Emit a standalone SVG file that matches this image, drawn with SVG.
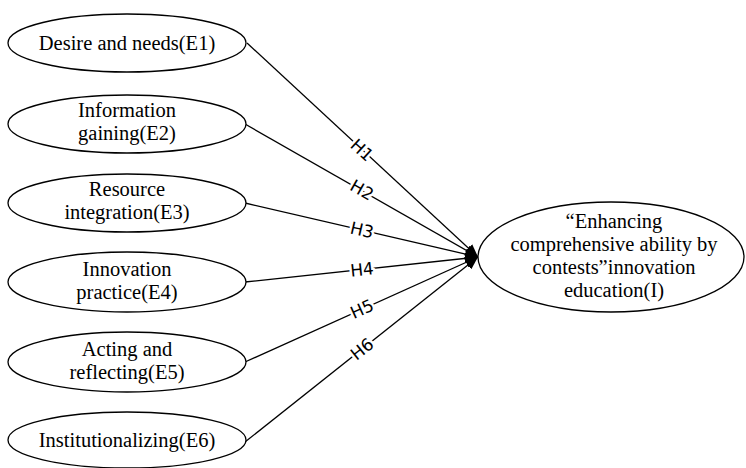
<svg xmlns="http://www.w3.org/2000/svg" width="746" height="468" viewBox="0 0 746 468">
<style>
.node ellipse{fill:#fff;stroke:#000;stroke-width:1.3}
.node text{font-family:"Liberation Serif","Times New Roman",serif;font-size:20.5px;fill:#000;text-anchor:middle}
.edges line{stroke:#000;stroke-width:1.3}
.lbl{font-family:"DejaVu Sans",sans-serif;font-size:17px;fill:#000;text-anchor:middle;stroke:#fff;stroke-width:5px;paint-order:stroke;stroke-linejoin:round}
</style>
<defs>
<marker id="arr" viewBox="0 0 13 11" refX="13" refY="5.5" markerWidth="13" markerHeight="11" markerUnits="userSpaceOnUse" orient="auto">
<path d="M0,0 L13,5.5 L0,11 Z" fill="#000"/>
</marker>
</defs>
<g class="edges">
<line x1="247" y1="43" x2="478" y2="257" marker-end="url(#arr)"/>
<line x1="245" y1="124" x2="478" y2="257" marker-end="url(#arr)"/>
<line x1="245" y1="203" x2="478" y2="257" marker-end="url(#arr)"/>
<line x1="245" y1="282" x2="478" y2="257" marker-end="url(#arr)"/>
<line x1="245" y1="362" x2="478" y2="257" marker-end="url(#arr)"/>
<line x1="245" y1="442" x2="478" y2="257" marker-end="url(#arr)"/>
<text class="lbl" transform="translate(362,150) rotate(42.8)" y="6">H1</text>
<text class="lbl" transform="translate(362,190) rotate(29.7)" y="6">H2</text>
<text class="lbl" transform="translate(362,230) rotate(13)" y="6">H3</text>
<text class="lbl" transform="translate(362,269.5) rotate(-6.1)" y="6">H4</text>
<text class="lbl" transform="translate(362,309) rotate(-24.3)" y="6">H5</text>
<text class="lbl" transform="translate(362,349) rotate(-38.5)" y="6">H6</text>
</g>
<g id="E1" class="node"><ellipse cx="127" cy="43" rx="119" ry="29"/><text x="127" y="50">Desire and needs(E1)</text></g>
<g id="E2" class="node"><ellipse cx="127" cy="124" rx="119" ry="29"/><text x="127" y="117">Information</text><text x="127" y="140">gaining(E2)</text></g>
<g id="E3" class="node"><ellipse cx="127" cy="203" rx="119" ry="29"/><text x="127" y="196">Resource</text><text x="127" y="219">integration(E3)</text></g>
<g id="E4" class="node"><ellipse cx="127" cy="282" rx="119" ry="30"/><text x="127" y="276">Innovation</text><text x="127" y="299">practice(E4)</text></g>
<g id="E5" class="node"><ellipse cx="127" cy="362" rx="119" ry="30"/><text x="127" y="356">Acting and</text><text x="127" y="379">reflecting(E5)</text></g>
<g id="E6" class="node"><ellipse cx="127" cy="440" rx="119" ry="28"/><text x="127" y="447">Institutionalizing(E6)</text></g>
<g id="I" class="node"><ellipse cx="611" cy="257" rx="133" ry="55"/><text x="614" y="228">“Enhancing</text><text x="614" y="251">comprehensive ability by</text><text x="614" y="274">contests”innovation</text><text x="614" y="297">education(I)</text></g>
</svg>
